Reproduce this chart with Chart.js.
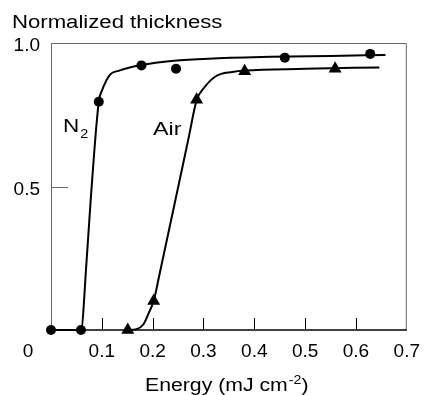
<!DOCTYPE html>
<html>
<head>
<meta charset="utf-8">
<script src="https://cdn.jsdelivr.net/npm/chart.js@4.4.1/dist/chart.umd.min.js"></script>
<style>
  html, body { margin: 0; padding: 0; background: #fff; }
  #wrap { width: 430px; height: 395px; }
</style>
</head>
<body>
<div id="wrap"><canvas id="thicknessChart"></canvas></div>
<script>
// measured film thickness (normalized) vs. laser energy
var n2Points = [[0, 0], [0.059, 0], [0.094, 0.795], [0.178, 0.922], [0.246, 0.91], [0.46, 0.949], [0.628, 0.962]];
var airPoints = [[0.151, 0], [0.202, 0.101], [0.2865, 0.802], [0.381, 0.902], [0.559, 0.91]];

// hand-fitted trend curves
var n2Curve = [[0, 0], [0.059, 0], [0.070, 0.241], [0.078, 0.451], [0.094, 0.795], [0.1006, 0.836],
  [0.1167, 0.891], [0.1327, 0.903], [0.1775, 0.923], [0.2417, 0.938], [0.319, 0.946],
  [0.4327, 0.952], [0.55, 0.955], [0.658, 0.958]];
var airCurve = [[0.151, 0], [0.168, 0.003], [0.182, 0.02], [0.192, 0.058], [0.202, 0.101], [0.213, 0.19],
  [0.2705, 0.667], [0.2865, 0.8], [0.3026, 0.847], [0.325, 0.885], [0.357, 0.899],
  [0.381, 0.904], [0.5, 0.91], [0.646, 0.915]];

var xTicks = [0, 0.1, 0.2, 0.3, 0.4, 0.5, 0.6, 0.7];
var yTicks = [0, 0.5, 1.0];

var FONT = '"Liberation Sans", Arial, sans-serif';

function toXY(arr) {
  return arr.map(function(p) { return { x: p[0], y: p[1] }; });
}

// text with a little horizontal stretch, left aligned at x
function wideText(ctx, text, x, y, size, sx) {
  ctx.save();
  ctx.font = size + 'px ' + FONT;
  var w = ctx.measureText(text).width * sx;
  ctx.translate(x, y);
  ctx.scale(sx, 1);
  ctx.textAlign = 'left';
  ctx.textBaseline = 'alphabetic';
  ctx.fillStyle = '#000';
  ctx.fillText(text, 0, 0);
  ctx.restore();
  return w;
}

var framePlugin = {
  id: 'frame',
  beforeDatasetsDraw: function(chart) {
    var ctx = chart.ctx, a = chart.chartArea;
    var xs = chart.scales.x, ys = chart.scales.y;
    ctx.save();
    ctx.lineWidth = 1;
    ctx.strokeStyle = '#666';
    ctx.beginPath();
    ctx.moveTo(a.left + 0.5, a.bottom);
    ctx.lineTo(a.left + 0.5, a.top + 0.5);
    ctx.lineTo(a.right - 0.5, a.top + 0.5);
    ctx.lineTo(a.right - 0.5, a.bottom);
    ctx.stroke();
    ctx.strokeStyle = '#000';
    ctx.lineWidth = 1.5;
    ctx.beginPath();
    ctx.moveTo(a.left, a.bottom);
    ctx.lineTo(a.right, a.bottom);
    ctx.stroke();
    // inward tick marks
    ctx.lineWidth = 1;
    ctx.strokeStyle = '#000';
    xTicks.forEach(function(v) {
      if (v === 0 || v === 0.7) return;
      var px = Math.round(xs.getPixelForValue(v)) + 0.5;
      ctx.beginPath();
      ctx.moveTo(px, a.bottom);
      ctx.lineTo(px, a.bottom - 12);
      ctx.stroke();
    });
    ctx.strokeStyle = '#666';
    var py = Math.round(ys.getPixelForValue(0.5)) + 0.5;
    ctx.beginPath();
    ctx.moveTo(a.left, py);
    ctx.lineTo(a.left + 17, py);
    ctx.stroke();
    ctx.restore();
  },
  afterDraw: function(chart) {
    var ctx = chart.ctx, a = chart.chartArea;
    ctx.save();
    // axis titles
    wideText(ctx, 'Normalized thickness', 12, 28, 18, 1.23);
    var x = 145, base = 391;
    x += wideText(ctx, 'Energy (mJ cm', x, base, 18, 1.18);
    x += wideText(ctx, '-2', x + 1, base - 7, 12, 1.18) + 1;
    wideText(ctx, ')', x, base, 18, 1.18);
    // origin label
    ctx.font = '19px ' + FONT;
    ctx.fillStyle = '#000';
    ctx.textAlign = 'center';
    ctx.textBaseline = 'middle';
    ctx.fillText('0', 28, a.bottom + 22);
    // series labels
    var nx = 63;
    nx += wideText(ctx, 'N', nx, 132, 18, 1.25);
    wideText(ctx, '2', nx + 1, 138, 12, 1.2);
    wideText(ctx, 'Air', 153, 135, 18, 1.3);
    ctx.restore();
  }
};

var ctx = document.getElementById('thicknessChart').getContext('2d');
new Chart(ctx, {
  type: 'scatter',
  data: {
    datasets: [
      {
        label: 'N2 fit',
        type: 'line',
        data: toXY(n2Curve),
        borderColor: '#000',
        borderWidth: 2,
        pointRadius: 0,
        cubicInterpolationMode: 'monotone',
        fill: false,
        clip: false
      },
      {
        label: 'Air fit',
        type: 'line',
        data: toXY(airCurve),
        borderColor: '#000',
        borderWidth: 2,
        pointRadius: 0,
        cubicInterpolationMode: 'monotone',
        fill: false,
        clip: false
      },
      {
        label: 'N2',
        data: toXY(n2Points),
        pointStyle: 'circle',
        pointRadius: 5,
        backgroundColor: '#000',
        borderColor: '#000',
        borderWidth: 0,
        clip: false
      },
      {
        label: 'Air',
        data: toXY(airPoints),
        pointStyle: 'triangle',
        pointRadius: 7.5,
        backgroundColor: '#000',
        borderColor: '#000',
        borderWidth: 0,
        clip: false
      }
    ]
  },
  options: {
    responsive: true,
    maintainAspectRatio: false,
    animation: false,
    layout: { padding: { top: 43, right: 14, left: 0, bottom: 0 } },
    plugins: {
      legend: { display: false },
      tooltip: { enabled: false }
    },
    scales: {
      x: {
        type: 'linear',
        min: 0,
        max: 0.7,
        afterBuildTicks: function(s) { s.ticks = xTicks.map(function(v) { return { value: v }; }); },
        afterFit: function(s) { s.height = 65; },
        grid: { display: false, drawTicks: false },
        border: { display: false },
        ticks: {
          padding: 10,
          color: '#000',
          font: { family: FONT, size: 19 },
          maxRotation: 0,
          autoSkip: false,
          callback: function(v) { return v === 0 ? '' : v.toFixed(1); }
        }
      },
      y: {
        min: 0,
        max: 1,
        afterBuildTicks: function(s) { s.ticks = yTicks.map(function(v) { return { value: v }; }); },
        afterFit: function(s) { s.width = 51; },
        grid: { display: false, drawTicks: false },
        border: { display: false },
        ticks: {
          padding: 11,
          labelOffset: 3,
          color: '#000',
          font: { family: FONT, size: 19 },
          callback: function(v) { return v === 0 ? '' : v.toFixed(1); }
        }
      }
    }
  },
  plugins: [framePlugin]
});
</script>
</body>
</html>
